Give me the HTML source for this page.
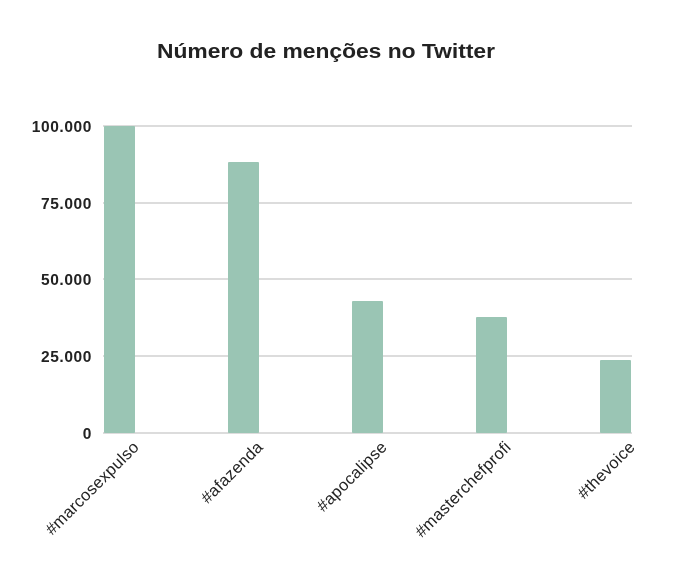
<!DOCTYPE html>
<html><head><meta charset="utf-8"><style>body{margin:0;background:#fff}svg{display:block}</style></head>
<body>
<svg width="683" height="563" xmlns="http://www.w3.org/2000/svg" font-family="Liberation Sans, sans-serif">
<text x="157" y="58" font-size="20" font-weight="bold" fill="#222" textLength="338" lengthAdjust="spacingAndGlyphs">Número de menções no Twitter</text>
<g stroke="#d0d0d0" stroke-width="1.5">
<line x1="103" y1="126" x2="632" y2="126"/>
<line x1="103" y1="203" x2="632" y2="203"/>
<line x1="103" y1="279" x2="632" y2="279"/>
<line x1="103" y1="356" x2="632" y2="356"/>
<line x1="103" y1="433" x2="632" y2="433"/>
</g>
<g font-size="15.5" font-weight="bold" fill="#222" text-anchor="end" letter-spacing="0.6">
<text x="92" y="132">100.000</text>
<text x="92" y="209">75.000</text>
<text x="92" y="285">50.000</text>
<text x="92" y="362">25.000</text>
<text x="92" y="439">0</text>
</g>
<g fill="#9ac5b4">
<rect x="104" y="126" width="31" height="307" rx="1"/>
<rect x="228" y="162" width="31" height="271" rx="1"/>
<rect x="352" y="301" width="31" height="132" rx="1"/>
<rect x="476" y="317" width="31" height="116" rx="1"/>
<rect x="600" y="360" width="31" height="73" rx="1"/>
</g>
<g font-size="16.5" fill="#222" text-anchor="end" letter-spacing="0.3">
<text transform="translate(140,448) rotate(-45)">#marcosexpulso</text>
<text transform="translate(264,448) rotate(-45)">#afazenda</text>
<text transform="translate(388,448) rotate(-45)">#apocalipse</text>
<text transform="translate(512,448) rotate(-45)">#masterchefprofi</text>
<text transform="translate(636,448) rotate(-45)">#thevoice</text>
</g>
</svg>
</body></html>
